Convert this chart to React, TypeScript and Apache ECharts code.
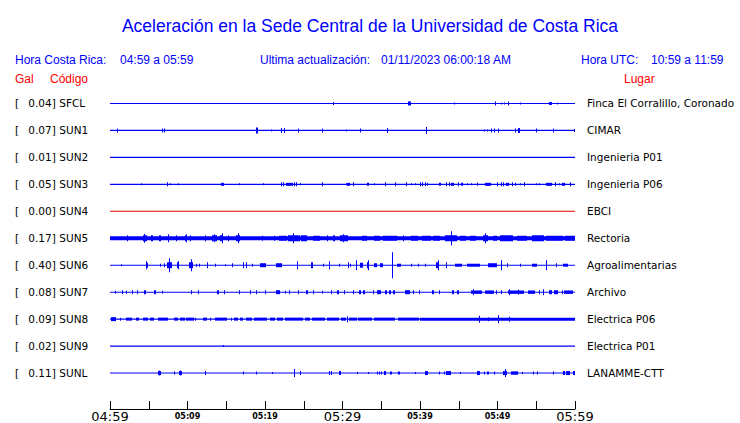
import React, { useEffect, useRef } from "react";
import * as echarts from "echarts";

// ---- data ----
const TITLE = "Aceleración en la Sede Central de la Universidad de Costa Rica";
const LOCAL_LABEL = "Hora Costa Rica:";
const LOCAL_RANGE = "04:59 a 05:59";
const UPDATE_LABEL = "Ultima actualización:";
const UPDATE_VALUE = "01/11/2023 06:00:18 AM";
const UTC_LABEL = "Hora UTC:";
const UTC_RANGE = "10:59 a 11:59";
const HEAD_GAL = "Gal";
const HEAD_CODE = "Código";
const HEAD_PLACE = "Lugar";

const STATIONS = ["SFCL", "SUN1", "SUN2", "SUN3", "SUN4", "SUN5", "SUN6", "SUN7", "SUN8", "SUN9", "SUNL"];
const GAL = ["0.04", "0.07", "0.01", "0.05", "0.00", "0.17", "0.40", "0.08", "0.09", "0.02", "0.11"];
const PLACES = [
  "Finca El Corralillo, Coronado",
  "CIMAR",
  "Ingenieria P01",
  "Ingenieria P06",
  "EBCI",
  "Rectoria",
  "Agroalimentarias",
  "Archivo",
  "Electrica P06",
  "Electrica P01",
  "LANAMME-CTT",
];
const TIME_LABELS = ["04:59", "05:09", "05:19", "05:29", "05:39", "05:49", "05:59"];
const MINUTES_SPAN = 60;

// events: [start minute, duration in minutes, half amplitude (relative units)]
const EV_SFCL = [[28.8, 0, 1.5], [38.4, 0.4, 2], [44.4, 0, 1], [49.7, 0, 2], [50.5, 0, 1], [50.8, 0, 1], [51.4, 0, 2], [52.9, 0, 1], [56.6, 0.4, 1.5], [57.7, 0, 1]];
const EV_SUN1 = [[0.86, 0, 2], [6.75, 0, 2], [6.97, 0, 2], [18.9, 0.3, 3], [20.8, 0, 1], [22.1, 0, 2.5], [22.4, 0, 2.5], [24.3, 0, 2], [27.4, 0, 2], [30.4, 0, 1], [32.2, 0, 2], [35.7, 0, 2.5], [40.8, 0, 3.5], [48.2, 0, 1], [48.7, 0, 1], [49.1, 0, 2], [49.5, 0, 2], [50.0, 0, 2], [52.2, 0, 2], [52.6, 0.3, 2.5], [55.0, 0, 2], [57.1, 0, 2], [59.9, 0, 1.5]];
const EV_SUN2: number[][] = [];
const EV_SUN3 = [[4.0, 0, 1], [7.3, 0, 2], [7.8, 0, 1], [8.8, 0, 1], [14.3, 0.45, 1.5], [16.6, 0, 1], [19.7, 0, 1], [22.0, 0, 2], [22.3, 0, 2], [22.7, 0.85, 1.5], [23.7, 0, 2], [24.0, 0, 2], [24.5, 0, 1], [27.4, 0, 2], [30.4, 0, 1], [30.6, 0.45, 1.5], [31.3, 0, 2], [33.1, 0.3, 1.5], [34.1, 0, 1], [35.5, 0, 2], [36.8, 0, 2], [38.2, 0, 2], [38.8, 0, 1], [39.4, 0, 1], [40.0, 0, 2], [40.3, 0, 2], [40.6, 0, 2], [40.9, 0, 1.5], [42.4, 0.2, 1.5], [43.3, 0, 2], [43.7, 0, 2], [44.0, 0.35, 1.5], [44.9, 0, 2], [45.3, 0.2, 1.5], [46.1, 0, 1], [46.6, 0, 1], [47.4, 0, 1.5], [48.4, 0.8, 1.5], [49.9, 0, 2], [50.4, 0, 2], [50.7, 0, 2], [51.1, 0.45, 1.5], [51.9, 0, 2], [52.3, 0, 1.5], [52.9, 0, 1], [53.4, 0, 2], [55.0, 0, 1], [55.3, 0, 1], [56.3, 0.8, 1.5], [57.4, 0, 2], [57.9, 0, 1], [58.3, 0.45, 1.5], [59.4, 0, 2]];
const EV_SUN4: number[][] = [];
const EV_SUN5 = [[0, 60, 2], [2.2, 0, 3], [4.2, 0.5, 3], [4.4, 0, 4.5], [5.3, 0.3, 3], [6.3, 0.2, 3], [7.5, 0, 4], [8.5, 0, 3], [9.7, 0.3, 3], [9.8, 0, 4], [10.3, 0, 3], [12.2, 0.1, 3], [13.1, 0.6, 3], [13.4, 0, 4], [14.2, 0.4, 3], [14.4, 0, 5], [15.2, 0, 3], [16.3, 0.5, 3], [16.5, 0, 5], [19.6, 0, 2.5], [21.1, 0, 2.5], [21.8, 1.0, 2.5], [23.0, 1.5, 3], [23.6, 0, 5], [24.7, 0.8, 3], [26.2, 0.9, 2.5], [28.0, 0, 3], [28.8, 0.2, 3], [29.7, 1.0, 3], [30.1, 0, 4], [32.5, 0.6, 2.5], [34.0, 0.8, 2.5], [35.2, 1.8, 2.5], [37.8, 0, 3], [38.9, 0.9, 2.5], [40.2, 1.1, 2.5], [41.7, 0.9, 2.5], [43.2, 1.5, 3], [44.0, 0, 7], [45.2, 0.8, 2.5], [46.5, 0.8, 2.5], [48.1, 0.7, 3], [48.4, 0, 5], [49.4, 0.5, 2.5], [50.3, 1.7, 3], [52.5, 1.3, 2.5], [54.4, 1.5, 3], [56.3, 2.2, 2.5], [58.7, 1.3, 2.5]];
const EV_SUN6 = [[1.4, 0, 1], [4.6, 0.3, 2.5], [4.7, 0, 4], [6.4, 0, 1.5], [7.0, 0, 2], [7.3, 0.7, 3], [7.6, 0, 7], [8.7, 0.2, 3], [8.8, 0, 4], [10.2, 0.5, 3], [10.4, 0, 6], [11.1, 0, 1.5], [11.5, 0, 1.5], [12.5, 0, 3], [13.5, 0, 1.5], [14.9, 0, 1], [15.8, 0, 2], [17.1, 0, 3], [17.5, 0, 3], [18.3, 0, 1.5], [19.4, 0.8, 2], [21.4, 0.8, 2], [24.1, 0, 4], [25.9, 0.2, 3], [27.5, 0, 1.5], [28.2, 0, 4], [29.5, 0, 1.5], [30.7, 0, 3], [31.0, 0, 1.5], [31.8, 0, 5], [32.3, 0.4, 2.5], [33.2, 0.2, 3], [33.3, 0, 5], [34.0, 0.4, 2], [34.8, 0.4, 2], [36.4, 0, 13], [37.0, 0.5, 1.5], [38.9, 0, 1.5], [39.8, 0, 1.5], [40.6, 0, 1.5], [42.1, 0.4, 3], [42.3, 0, 5], [43.4, 0, 3], [44.5, 0.9, 1.5], [46.0, 1.7, 1.5], [48.8, 1.1, 2], [50.5, 0, 5], [51.2, 0, 2], [52.9, 0, 1.5], [54.4, 0.6, 1.5], [56.3, 0, 5], [57.6, 0, 2], [58.5, 0.6, 1.5]];
const EV_SUN7 = [[0.6, 0, 1.5], [1.5, 0, 2], [2.0, 0, 1.5], [2.8, 0, 2], [3.5, 0, 2], [4.4, 0.2, 2], [5.7, 0.3, 2], [6.7, 0, 1.5], [10.5, 0, 2], [11.3, 0, 2], [13.8, 0.2, 2], [14.7, 0, 2], [16.6, 0, 2], [18.0, 0, 2], [18.9, 0, 2], [20.0, 0, 2], [21.4, 0.5, 2], [22.6, 0, 1.5], [23.1, 0, 2], [24.2, 0, 2], [25.3, 0.3, 2], [26.2, 0, 2], [27.3, 0, 1.5], [28.5, 0, 2], [29.3, 0.3, 2], [30.2, 0, 2], [31.3, 0, 2], [32.1, 0.2, 2], [32.6, 0.2, 2], [33.9, 0, 2], [34.5, 0.5, 2], [35.5, 0.3, 2], [36.0, 0.3, 2], [36.5, 0.3, 2], [38.0, 0.6, 2], [39.1, 0, 2], [39.9, 0, 2], [41.5, 0.3, 2], [42.4, 0, 2], [44.1, 0.2, 2], [44.8, 0.2, 2], [46.6, 1.4, 1.7], [46.8, 0, 3], [48.4, 1.1, 1.7], [49.8, 0, 2], [50.5, 0, 2], [51.3, 2.0, 1.7], [51.5, 0, 3], [52.6, 0, 2.5], [53.9, 0.9, 1.7], [55.3, 0, 2], [55.9, 0, 3], [56.6, 0.4, 2], [57.3, 0.5, 2], [58.3, 0, 2], [58.6, 1.2, 1.7]];
const EV_SUN8 = [[0.1, 0.6, 2], [1.3, 0, 1.5], [2.0, 0.8, 1.5], [3.4, 0.4, 1.5], [4.2, 0.7, 1.5], [5.2, 0.5, 1.5], [6.2, 1.3, 1.5], [8.2, 0.5, 1.5], [9.0, 0.7, 1.5], [9.8, 1.0, 1.5], [11.0, 0, 1.5], [12.0, 0.5, 1.5], [12.9, 0, 1.5], [13.5, 1.6, 1.5], [15.6, 0, 1.5], [16.0, 0.5, 1.5], [16.8, 0.4, 1.5], [17.5, 0.8, 1.5], [18.6, 1.7, 1.5], [20.6, 0.7, 1.5], [21.6, 0.8, 1.5], [22.6, 2.3, 1.5], [25.2, 0.6, 1.5], [26.0, 1.7, 1.5], [28.0, 1.5, 1.5], [29.8, 0.7, 1.5], [30.6, 0, 3], [30.8, 1.0, 1.5], [32.0, 1.8, 1.5], [34.1, 2.7, 1.5], [37.1, 2.7, 1.5], [40.0, 20, 1.5], [47.6, 0, 3.5], [48.8, 0, 2], [50.1, 0, 4], [51.5, 0, 2.5]];
const EV_SUN9 = [[14.6, 0, 1]];
const EV_SUNL = [[6.2, 0.4, 2], [6.3, 0, 2.5], [8.2, 0, 1.5], [8.9, 0.4, 2], [9.0, 0, 2.5], [12.2, 0.1, 2], [17.2, 0, 1.5], [18.8, 0, 1.5], [20.9, 0, 1], [23.7, 0, 4], [24.5, 0, 2], [28.2, 0, 2], [28.5, 0, 2], [29.5, 0.2, 2], [31.9, 0, 1], [33.3, 0, 1], [34.4, 0, 1.5], [34.7, 0, 1.5], [35.0, 0, 1.5], [35.4, 0.2, 2], [36.1, 0, 1.5], [36.3, 0, 1.5], [37.1, 0, 1.5], [37.3, 0, 1.5], [39.3, 0, 1], [40.6, 0.4, 2], [42.4, 0, 1.5], [43.1, 0, 1.5], [43.3, 0.6, 2], [45.1, 0, 1], [47.4, 0.4, 2], [48.2, 0, 1.5], [48.6, 0, 1.5], [48.8, 0, 1.5], [49.5, 0, 1.5], [50.7, 0.5, 2], [51.0, 0, 4], [51.7, 0.9, 1.7], [53.2, 0, 1], [54.6, 0, 1.5], [55.1, 0, 1.5], [57.2, 0, 1.5], [58.4, 0.2, 2], [58.9, 0.5, 2], [59.7, 0.2, 2]];
const EVENTS = [EV_SFCL, EV_SUN1, EV_SUN2, EV_SUN3, EV_SUN4, EV_SUN5, EV_SUN6, EV_SUN7, EV_SUN8, EV_SUN9, EV_SUNL];

// ---- style ----
const BLUE = "#0000ff";
const RED = "#ff0000";
const TRACE_COLORS = STATIONS.map((s) => (s === "SUN4" ? "#ee0000" : BLUE));
const AMP_TO_ROW = 1 / 27;
const SANS = "'Liberation Sans', Arial, sans-serif";
const DEJAVU = "'DejaVu Sans', sans-serif";

export default function App() {
  const ref = useRef<HTMLDivElement>(null);
  useEffect(() => {
    if (!ref.current) return;
    const chart = echarts.init(ref.current, null, { renderer: "svg", width: 740, height: 423 });
    const n = STATIONS.length;
    const rowIndex = (v: number) => {
      const i = Math.round(v);
      if (Math.abs(v - i) > 1e-6 || i < 0 || i >= n) return -1;
      return i;
    };
    const yBase = {
      type: "value",
      min: -1,
      max: 34 / 3,
      interval: 1,
      inverse: true,
      axisLine: { show: false },
      axisTick: { show: false },
      splitLine: { show: false },
    };
    const series: any[] = [];
    STATIONS.forEach((s, i) => {
      series.push({
        type: "line",
        name: s + "-base",
        data: [[0, i], [MINUTES_SPAN, i]],
        showSymbol: false,
        silent: true,
        lineStyle: { color: TRACE_COLORS[i], width: 1.1 },
        itemStyle: { color: TRACE_COLORS[i] },
      });
      series.push({
        type: "custom",
        name: s,
        silent: true,
        encode: { x: 0, y: 1 },
        data: EVENTS[i].map((e) => [e[0], i, e[1], e[2]]),
        renderItem: (params: any, api: any) => {
          const t = api.value(0);
          const r = api.value(1);
          const d = api.value(2);
          const a = api.value(3) * AMP_TO_ROW;
          const p0 = api.coord([t, r - a]);
          const p1 = api.coord([t + d, r + a]);
          const w = Math.max(1, p1[0] - p0[0]);
          return {
            type: "rect",
            shape: {
              x: Math.round(p0[0]),
              y: Math.min(p0[1], p1[1]),
              width: Math.round(w),
              height: Math.abs(p1[1] - p0[1]),
            },
            style: { fill: TRACE_COLORS[i] },
          };
        },
      });
    });

    const headerY = 61;
    const redY = 80;
    const option: any = {
      animation: false,
      backgroundColor: "#ffffff",
      title: {
        text: TITLE,
        left: "center",
        top: 12,
        textStyle: { color: BLUE, fontFamily: SANS, fontSize: 17.5, fontWeight: "normal" },
      },
      grid: { left: 110, right: 165, top: 76.5, bottom: 13.5 },
      xAxis: {
        type: "value",
        min: 0,
        max: MINUTES_SPAN,
        interval: 5,
        axisLine: { show: true, onZero: false, lineStyle: { color: "#000", width: 1 } },
        axisTick: { show: true, inside: true, length: 8, lineStyle: { color: "#000", width: 1 } },
        splitLine: { show: false },
        axisLabel: {
          margin: 1,
          formatter: (v: number) => {
            if (Math.abs(v % 10) > 1e-6) return "";
            const k = Math.round(v / 10);
            const lab = TIME_LABELS[k];
            if (!lab) return "";
            return k % 3 === 0 ? `{big|${lab}}` : `{small|${lab}}`;
          },
          rich: {
            big: { fontFamily: DEJAVU, fontSize: 13, color: "#000", lineHeight: 13 },
            small: { fontFamily: DEJAVU, fontSize: 8, fontWeight: "bold", color: "#000", lineHeight: 13 },
          },
        },
      },
      yAxis: [
        {
          ...yBase,
          position: "left",
          axisLabel: {
            align: "left",
            margin: 95,
            formatter: (v: number) => {
              const i = rowIndex(v);
              if (i < 0) return "";
              return `{a|[}{v|${GAL[i]}]}{c| ${STATIONS[i]}}`;
            },
            rich: {
              a: { fontFamily: DEJAVU, fontSize: 10.5, color: "#000", width: 13 },
              v: { fontFamily: DEJAVU, fontSize: 10.5, color: "#000", width: 28, align: "right" },
              c: { fontFamily: DEJAVU, fontSize: 10.5, color: "#000" },
            },
          },
        },
        {
          ...yBase,
          position: "right",
          axisLabel: {
            align: "left",
            margin: 12,
            fontFamily: DEJAVU,
            fontSize: 10.5,
            color: "#000",
            formatter: (v: number) => {
              const i = rowIndex(v);
              return i < 0 ? "" : PLACES[i];
            },
          },
        },
      ],
      graphic: [
        { type: "text", left: 15, top: headerY - 7, style: { text: LOCAL_LABEL, fill: BLUE, font: `12px ${SANS}` } },
        { type: "text", left: 120, top: headerY - 7, style: { text: LOCAL_RANGE, fill: BLUE, font: `12px ${SANS}` } },
        { type: "text", left: 260, top: headerY - 7, style: { text: UPDATE_LABEL, fill: BLUE, font: `12px ${SANS}` } },
        { type: "text", left: 381, top: headerY - 7, style: { text: UPDATE_VALUE, fill: BLUE, font: `12px ${SANS}` } },
        { type: "text", left: 581, top: headerY - 7, style: { text: UTC_LABEL, fill: BLUE, font: `12px ${SANS}` } },
        { type: "text", left: 651, top: headerY - 7, style: { text: UTC_RANGE, fill: BLUE, font: `12px ${SANS}` } },
        { type: "text", left: 15, top: redY - 7, style: { text: HEAD_GAL, fill: RED, font: `12px ${SANS}` } },
        { type: "text", left: 50, top: redY - 7, style: { text: HEAD_CODE, fill: RED, font: `12px ${SANS}` } },
        { type: "text", left: 624, top: redY - 7, style: { text: HEAD_PLACE, fill: RED, font: `12px ${SANS}` } },
      ],
      series,
    };
    chart.setOption(option);
    return () => chart.dispose();
  }, []);
  return (
    <div
      ref={ref}
      style={{ position: "fixed", left: 0, top: 0, width: 740, height: 423, background: "#fff" }}
    />
  );
}
